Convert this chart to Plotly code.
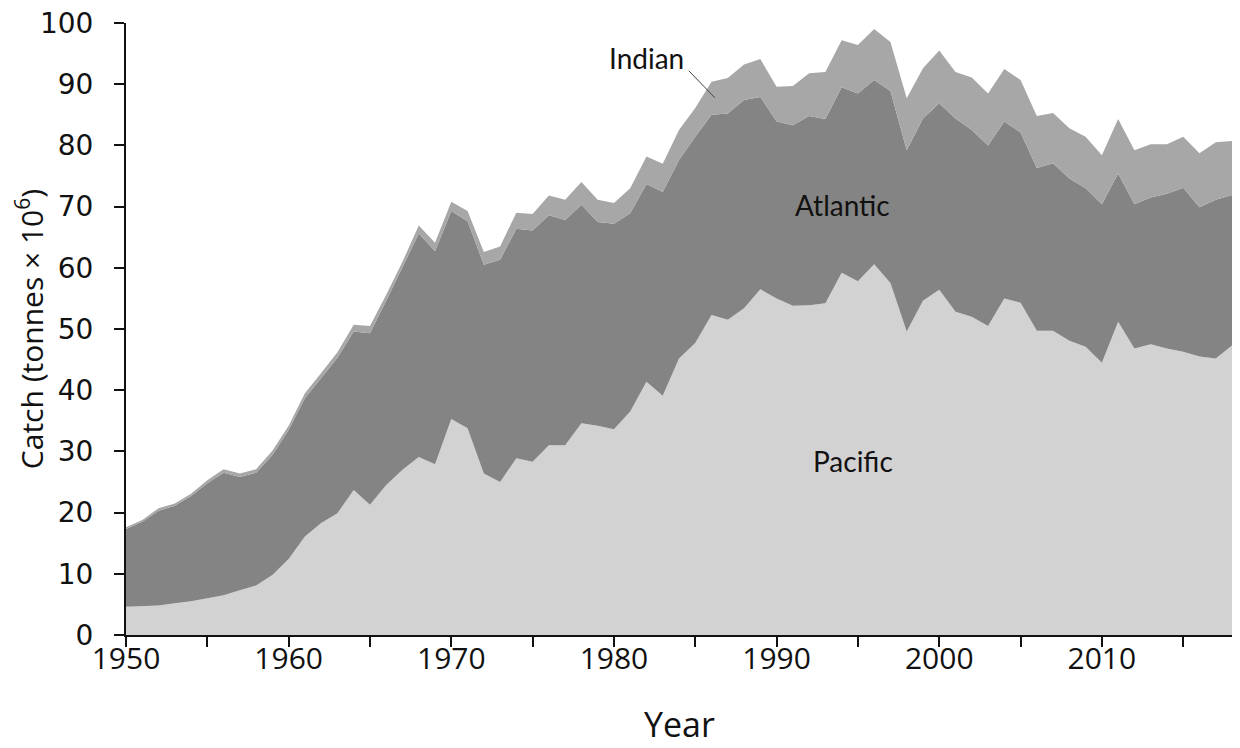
import plotly.graph_objects as go

years = list(range(1950, 2019))

pacific = [4.6, 4.7, 4.8, 5.2, 5.5, 6.0, 6.5, 7.3, 8.1, 9.8,
           12.4, 16.1, 18.3, 19.9, 23.7, 21.3, 24.5, 27.0, 29.1, 27.9,
           35.3, 33.8, 26.4, 25.0, 28.9, 28.3, 31.0, 31.0, 34.6, 34.2,
           33.6, 36.5, 41.4, 39.1, 45.2, 47.7, 52.3, 51.5, 53.4, 56.5,
           55.0, 53.8, 53.9, 54.2, 59.2, 57.8, 60.6, 57.5, 49.6, 54.6,
           56.4, 52.8, 52.0, 50.5, 55.0, 54.3, 49.7, 49.7, 48.1, 47.1,
           44.5, 51.2, 46.8, 47.5, 46.8, 46.3, 45.5, 45.2, 47.3]

atlantic = [12.7, 13.8, 15.5, 15.9, 17.2, 18.8, 20.0, 18.5, 18.4, 19.6,
            21.1, 22.6, 23.7, 25.4, 25.9, 28.0, 30.1, 33.0, 36.5, 34.8,
            34.0, 33.8, 34.1, 36.3, 37.5, 37.8, 37.6, 36.8, 35.7, 33.3,
            33.6, 32.4, 32.3, 33.3, 32.4, 33.7, 32.7, 33.7, 34.0, 31.4,
            28.9, 29.5, 30.9, 30.1, 30.3, 30.7, 30.1, 31.4, 29.6, 29.8,
            30.5, 31.6, 30.5, 29.5, 28.9, 27.8, 26.6, 27.4, 26.5, 25.9,
            25.9, 24.2, 23.6, 24.0, 25.3, 26.8, 24.4, 25.9, 24.6]

indian = [0.3, 0.3, 0.4, 0.4, 0.4, 0.5, 0.6, 0.6, 0.6, 0.7,
          0.7, 0.8, 0.8, 0.9, 1.1, 1.2, 1.0, 1.0, 1.3, 1.4,
          1.5, 1.7, 2.1, 2.2, 2.6, 2.7, 3.2, 3.3, 3.7, 3.6,
          3.4, 4.1, 4.5, 4.6, 4.9, 4.7, 5.4, 5.8, 5.8, 6.2,
          5.7, 6.4, 7.0, 7.7, 7.7, 7.9, 8.3, 8.0, 8.5, 8.2,
          8.6, 7.6, 8.6, 8.5, 8.6, 8.6, 8.5, 8.2, 8.2, 8.4,
          8.0, 8.9, 8.8, 8.7, 8.1, 8.3, 8.8, 9.4, 8.8]

series = [("Pacific", pacific, "#d3d2d3"),
          ("Atlantic", atlantic, "#848484"),
          ("Indian", indian, "#a7a7a7")]

y_ticks = list(range(0, 101, 10))
x_ticks = list(range(1950, 2011, 10))

fig = go.Figure()
for name, vals, col in series:
    fig.add_trace(go.Scatter(
        x=years, y=vals, name=name, mode="lines",
        stackgroup="one", line=dict(width=0, color=col),
        fillcolor=col, hoverinfo="x+y+name"))

txt_font = dict(family="Lato, Open Sans, sans-serif", size=28, color="#111111")

fig.add_annotation(x=1994.05, y=70.3, text="Atlantic", showarrow=False, font=txt_font)
fig.add_annotation(x=1994.7, y=28.4, text="Pacific", showarrow=False, font=txt_font)
fig.add_annotation(x=1982.0, y=94.3, text="Indian", showarrow=False, font=txt_font)
fig.add_shape(type="line", xref="x", yref="y", x0=1984.6, y0=92.2, x1=1986.2, y1=87.8,
              line=dict(color="#404040", width=1))

# x-axis title placed as a paper annotation below the tick labels
fig.add_annotation(x=0.5, y=0, xref="paper", yref="paper", text="Year", showarrow=False,
                   yanchor="middle", yshift=-89,
                   font=dict(family="Open Sans, sans-serif", size=34, color="#111111"))

# page body has an 8px margin: size the figure so the plot area lands as in the reference
fig.update_layout(
    width=1224, height=740,
    margin=dict(l=118, r=0, t=15, b=113),
    paper_bgcolor="white", plot_bgcolor="white",
    showlegend=False,
    font=dict(family="Lato, Open Sans, sans-serif", color="#111111"),
)
fig.update_xaxes(
    range=[1950, 2018], tickvals=x_ticks, ticks="outside", ticklen=10,
    tickwidth=1.5, tickcolor="#111111", automargin=False,
    minor=dict(dtick=5, tick0=1950, ticks="outside", ticklen=10, tickwidth=1.5, tickcolor="#111111"),
    showline=True, linecolor="#111111", linewidth=2, showgrid=False, zeroline=False,
    ticklabelstandoff=-14, ticklabeloverflow="allow",
    tickfont=dict(family="Open Sans, sans-serif", size=30, color="#111111"),
)
fig.update_yaxes(
    range=[0, 100], tickvals=y_ticks, ticks="outside", ticklen=10,
    tickwidth=1.5, tickcolor="#111111", automargin=False,
    showline=True, linecolor="#111111", linewidth=2, showgrid=False, zeroline=False,
    ticklabelstandoff=15, ticklabeloverflow="allow",
    tickfont=dict(family="DejaVu Sans, sans-serif", size=28, color="#111111"),
    title=dict(text="Catch (tonnes × 10<sup>6</sup>)",
               font=dict(family="Open Sans, sans-serif", size=30, color="#111111"), standoff=3),
)

fig.write_html("out.html")
